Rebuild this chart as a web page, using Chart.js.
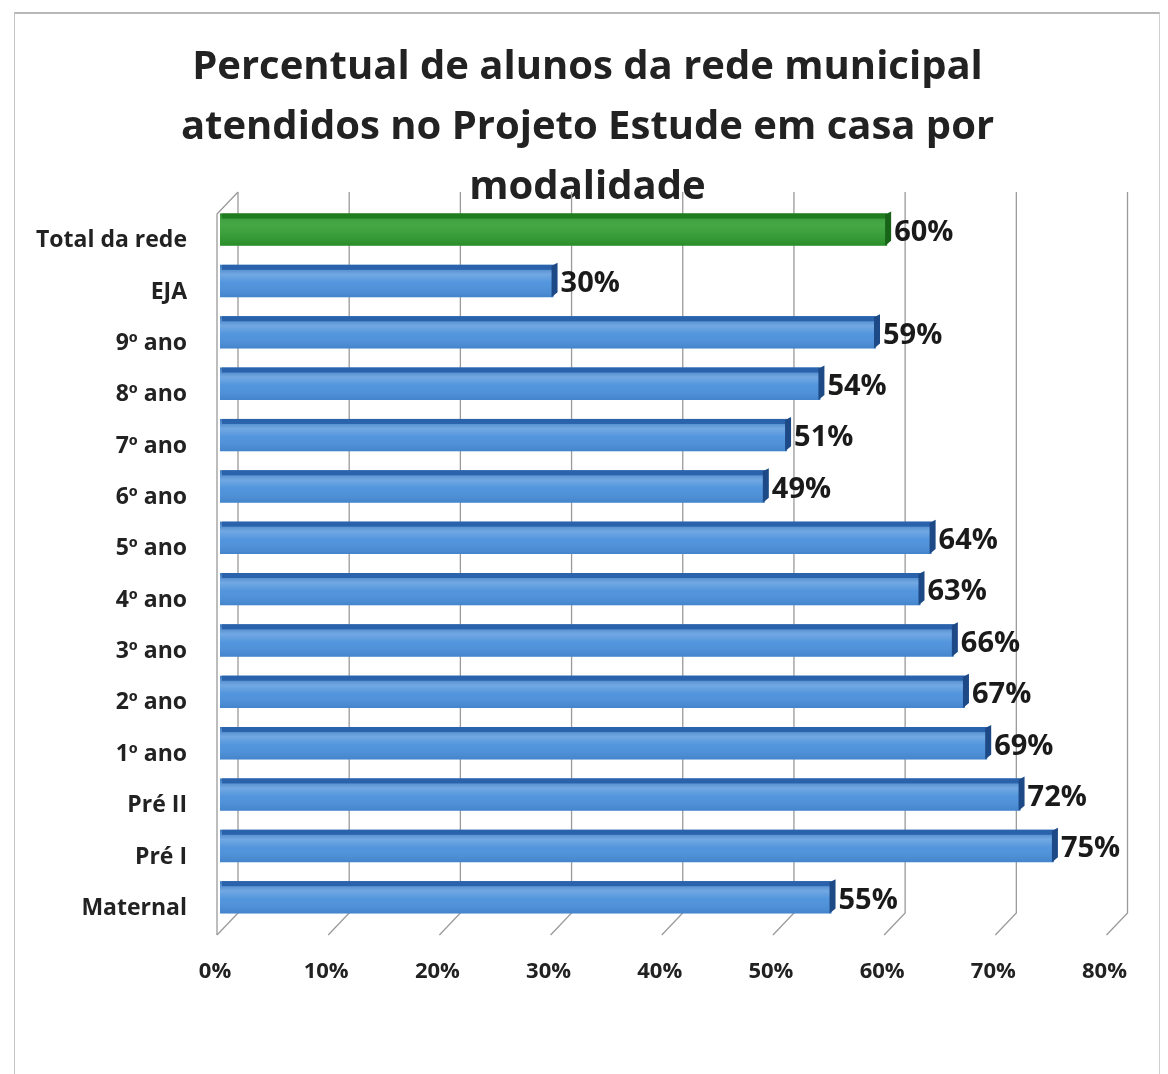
<!DOCTYPE html>
<html>
<head>
<meta charset="utf-8">
<script src="https://cdn.jsdelivr.net/npm/chart.js@4.4.1/dist/chart.umd.min.js"></script>
<style>
  html, body { margin: 0; padding: 0; background: #ffffff; }
  #frame { position: absolute; left: 14px; top: 12px; width: 1146px; height: 1062px;
           border-left: 1px solid #c4c4c4; border-top: 2px solid #b8b8b8; border-right: 1px solid #d0d0d0; box-sizing: border-box; }
  #wrap { position: absolute; left: 15px; top: 14px; width: 1145px; height: 1060px; }
</style>
</head>
<body>
<div id="frame"></div>
<div id="wrap"><canvas id="c" width="1145" height="1060"></canvas></div>
<script>
const titleLines = ["Percentual de alunos da rede municipal", "atendidos no Projeto Estude em casa por", "modalidade"];
const categories = ["Total da rede", "EJA", "9º ano", "8º ano", "7º ano", "6º ano", "5º ano", "4º ano", "3º ano", "2º ano", "1º ano", "Pré II", "Pré I", "Maternal"];
const values = [60, 30, 59, 54, 51, 49, 64, 63, 66, 67, 69, 72, 75, 55];
const xTicks = [0, 10, 20, 30, 40, 50, 60, 70, 80];
const highlightIndex = 0;

const FONT = "'Open Sans', Lato, 'DejaVu Sans', sans-serif";
const blueFace = "#4a90db", blueDark = "#2a62ab", blueCap = "#1d4a86";
const greenFace = "#2f9e2f", greenDark = "#1f7d1f", greenCap = "#176317";

const threeD = {
  id: "threeD",
  beforeDatasetsDraw(chart) {
    const ctx = chart.ctx, xs = chart.scales.x, area = chart.chartArea;
    const top = area.top - 12, bot = area.bottom - 10, dx = 21, dy = 22;
    ctx.save();
    ctx.strokeStyle = "#9a9a9a";
    ctx.lineWidth = 1.3;
    xTicks.forEach(v => {
      const xf = xs.getPixelForValue(v) - 3;
      const xb = xf + dx;
      ctx.beginPath();
      ctx.moveTo(xb, top);
      ctx.lineTo(xb, bot);
      ctx.lineTo(xf, bot + dy);
      ctx.stroke();
    });
    const x0 = xs.getPixelForValue(0) - 3;
    ctx.beginPath();
    ctx.moveTo(x0 + dx, top);
    ctx.lineTo(x0, top + dy);
    ctx.lineTo(x0, bot + dy);
    ctx.stroke();
    ctx.restore();
  },
  afterDatasetsDraw(chart) {
    const ctx = chart.ctx;
    const meta = chart.getDatasetMeta(0);
    ctx.save();
    meta.data.forEach((el, i) => {
      const p = el.getProps(["x", "y", "base", "height"], true);
      const h = p.height, t = p.y - h / 2, b = p.y + h / 2;
      const green = i === highlightIndex;
      const g = ctx.createLinearGradient(0, t, 0, b);
      if (green) {
        g.addColorStop(0, "rgba(0,60,0,0.25)");
        g.addColorStop(0.35, "rgba(255,255,255,0.10)");
        g.addColorStop(1, "rgba(0,40,0,0.15)");
      } else {
        g.addColorStop(0, "rgba(10,40,90,0.25)");
        g.addColorStop(0.3, "rgba(255,255,255,0.22)");
        g.addColorStop(0.55, "rgba(255,255,255,0.05)");
        g.addColorStop(1, "rgba(10,40,90,0.12)");
      }
      ctx.fillStyle = g;
      ctx.fillRect(p.base, t, p.x - p.base, h);
      ctx.fillStyle = green ? greenDark : blueDark;
      ctx.fillRect(p.base + 2, t, p.x - p.base - 2, 5);
      ctx.fillStyle = green ? greenCap : blueCap;
      ctx.beginPath();
      ctx.moveTo(p.x - 2, t + 1);
      ctx.lineTo(p.x + 4, t - 2);
      ctx.lineTo(p.x + 4, b - 5);
      ctx.lineTo(p.x - 2, b);
      ctx.closePath();
      ctx.fill();
      ctx.fillStyle = "#1a1a1a";
      ctx.font = "bold 29px " + FONT;
      ctx.textAlign = "left";
      ctx.textBaseline = "middle";
      ctx.fillText(values[i] + "%", p.x + 7, p.y + 3);
    });
    ctx.restore();
  }
};

new Chart(document.getElementById("c"), {
  type: "bar",
  data: {
    labels: categories,
    datasets: [{
      data: values,
      backgroundColor: values.map((v, i) => i === highlightIndex ? greenFace : blueFace),
      borderWidth: 0,
      barPercentage: 0.63,
      categoryPercentage: 1.0
    }]
  },
  options: {
    indexAxis: "y",
    responsive: false,
    animation: false,
    devicePixelRatio: 1,
    layout: { padding: { left: 0, right: 0, top: 0, bottom: 71 } },
    plugins: {
      legend: { display: false },
      tooltip: { enabled: false },
      title: {
        display: true,
        text: titleLines,
        color: "#222222",
        font: { family: FONT, size: 40, weight: "bold", lineHeight: 1.5 },
        padding: { top: 24, bottom: -14 }
      }
    },
    scales: {
      x: {
        min: 0, max: 84.3,
        afterFit(s) { s.height = 80; },
        afterBuildTicks(s) { s.ticks = xTicks.map(v => ({ value: v })); },
        grid: { display: false },
        border: { display: false },
        ticks: {
          padding: 28,
          labelOffset: -5,
          color: "#222222",
          font: { family: FONT, size: 22, weight: "bold" },
          callback: v => v + "%"
        }
      },
      y: {
        afterFit(s) { s.width = 205; },
        grid: { display: false },
        border: { display: false },
        ticks: {
          padding: 25,
          labelOffset: 11,
          color: "#222222",
          font: { family: FONT, size: 23, weight: "bold" }
        }
      }
    }
  },
  plugins: [threeD]
});
</script>
</body>
</html>
